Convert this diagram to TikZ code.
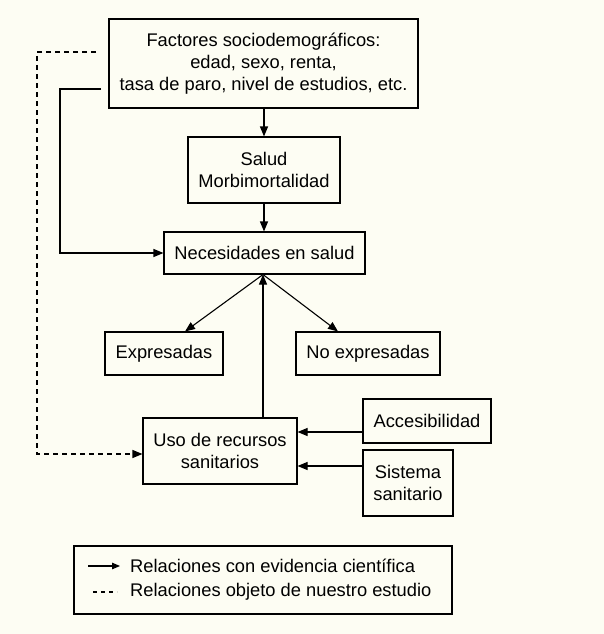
\documentclass[tikz,border=0pt]{standalone}
\usepackage{fontspec}
\setmainfont{Liberation Sans}
\usetikzlibrary{arrows.meta}
\definecolor{bgcream}{HTML}{FDFDF3}
\begin{document}
\begin{tikzpicture}[x=1pt,y=-1pt,
  box/.style={draw,line width=1.1pt,fill=bgcream,inner sep=0pt,align=center,font=\fontsize{18.3}{22}\selectfont},
  conn/.style={line width=1.1pt,-{Triangle[length=10pt,width=8pt]}},
  dconn/.style={line width=1.1pt,dash pattern=on 5pt off 4pt,-{Triangle[length=10pt,width=8pt]}},
  txt/.style={inner sep=0pt,anchor=west,font=\fontsize{18.3}{22}\selectfont}]
\fill[bgcream] (0,0) rectangle (604,634);
\useasboundingbox (0,0) rectangle (604,634);
% boxes
\node[box,minimum width=309pt,minimum height=89pt] (fact) at (263.5,63.5)
  {Factores sociodemográficos:\\edad, sexo, renta,\\tasa de paro, nivel de estudios, etc.};
\node[box,minimum width=152pt,minimum height=66pt] (salud) at (264,170) {Salud\\Morbimortalidad};
\node[box,minimum width=201pt,minimum height=42pt] (nec) at (264.5,253) {Necesidades en salud};
\node[box,minimum width=118pt,minimum height=43pt] (expr) at (164,353.5) {Expresadas};
\node[box,minimum width=144pt,minimum height=43pt] (noexpr) at (368,353.5) {No expresadas};
\node[box,minimum width=154pt,minimum height=66pt] (uso) at (220,451) {Uso de recursos\\sanitarios};
\node[box,minimum width=128pt,minimum height=44pt] (acc) at (427,421) {Accesibilidad};
\node[box,minimum width=90pt,minimum height=66pt] (sis) at (408,483) {Sistema\\sanitario};
\node[draw,line width=1.1pt,minimum width=378pt,minimum height=68pt,inner sep=0pt] (leg) at (263,580) {};
% coordinates
\coordinate (d0) at (96,52);
\coordinate (d1) at (37,52);
\coordinate (d2) at (37,454);
\coordinate (s0) at (101,89);
\coordinate (s1) at (60,89);
\coordinate (s2) at (60,253);
% connectors
\draw[conn] (fact.south -| salud.north) -- (salud.north);
\draw[conn] (salud.south) -- (salud.south |- nec.north);
\draw[conn] (s0) -- (s1) -- (s2) -- (nec.west);
\draw[conn] (nec.south -| 263,0) -- (expr.north -| 185,0);
\draw[conn] (nec.south -| 263,0) -- (noexpr.north -| 338,0);
\draw[conn] (uso.north -| 263,0) -- (nec.south -| 263,0);
\draw[conn] (acc.west |- 0,432) -- (uso.east |- 0,432);
\draw[conn] (sis.west |- 0,466) -- (uso.east |- 0,466);
\draw[dconn] (d0) -- (d1) -- (d2) -- (uso.west |- d2);
% legend
\coordinate (la0) at (88,566);
\coordinate (la1) at (120,566);
\coordinate (lb0) at (93,592);
\coordinate (lb1) at (117,592);
\draw[conn,-{Triangle[length=8pt,width=6.5pt]}] (la0) -- (la1);
\draw[line width=1.1pt,dash pattern=on 4pt off 4pt] (lb0) -- (lb1);
\node[txt] (l1) at (130,566) {Relaciones con evidencia científica};
\node[txt] (l2) at (130,592) {Relaciones objeto de nuestro estudio};
\end{tikzpicture}
\end{document}
